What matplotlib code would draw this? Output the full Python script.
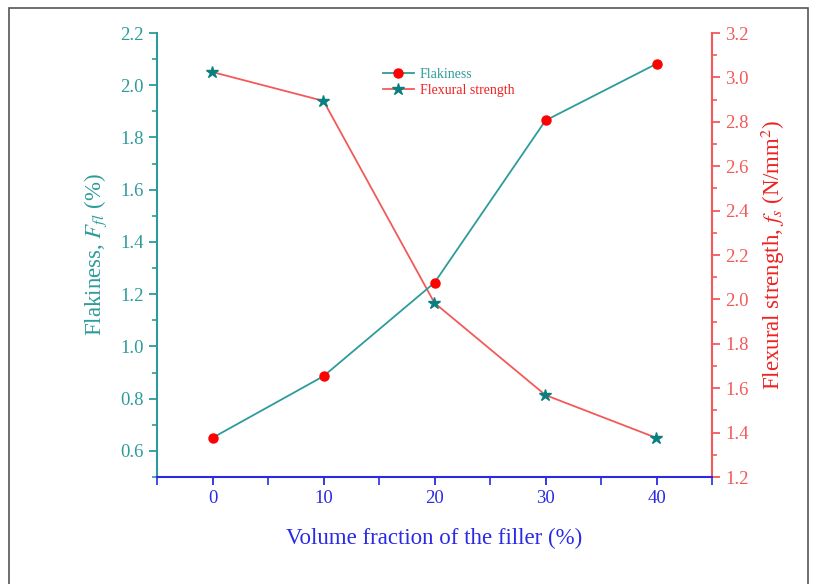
import matplotlib.pyplot as plt
from matplotlib.patches import Rectangle
from matplotlib.ticker import MultipleLocator

plt.rcParams['font.family'] = 'Liberation Serif'
plt.rcParams['mathtext.fontset'] = 'stix'

filler = [0, 10, 20, 30, 40]
flakiness = [0.65, 0.886, 1.244, 1.865, 2.082]
flexural = [3.024, 2.894, 1.984, 1.569, 1.376]

teal = '#2E9B9B'
teal_dark = '#0A7F7F'
red = '#F25A5A'
blue = '#2A2AE6'

fig = plt.figure(figsize=(8.17, 5.84), dpi=100)
ax = fig.add_axes([157/817, 1-477/584, (712-157)/817, (477-33)/584])
ax2 = ax.twinx()

# frame round the whole picture
fig.patches.append(Rectangle((9/817, -0.01), (808-9)/817, 1-8/584+0.01,
                             transform=fig.transFigure, fill=False,
                             edgecolor='#555555', linewidth=1.2))

l1, = ax.plot(filler, flakiness, color=teal, linewidth=1.3, marker='o',
              markersize=6.5, markerfacecolor='red', markeredgecolor='red',
              label='Flakiness', zorder=3)
l2, = ax2.plot(filler, flexural, color=red, linewidth=1.3, marker='*',
               markersize=9, markerfacecolor=teal_dark, markeredgecolor=teal_dark,
               label='Flexural strength', zorder=3)

ax.set_xlim(-5, 45)
ax.set_ylim(0.5, 2.2)
ax2.set_ylim(1.2, 3.2)
ax.set_xticks(filler)
ax.xaxis.set_minor_locator(MultipleLocator(5))
ax.yaxis.set_minor_locator(MultipleLocator(0.1))
ax2.yaxis.set_major_locator(MultipleLocator(0.2))
ax2.yaxis.set_minor_locator(MultipleLocator(0.1))
ax.set_yticks([0.6, 0.8, 1.0, 1.2, 1.4, 1.6, 1.8, 2.0, 2.2])
ax.set_yticklabels(['0.6', '0.8', '1.0', '1.2', '1.4', '1.6', '1.8', '2.0', '2.2'])

for a in (ax, ax2):
    a.spines['top'].set_visible(False)
ax.spines['left'].set_color(teal)
ax.spines['bottom'].set_color(blue)
ax.spines['right'].set_visible(False)
ax2.spines['left'].set_visible(False)
ax2.spines['bottom'].set_visible(False)
ax2.spines['right'].set_color(red)
for s in ('left', 'bottom'):
    ax.spines[s].set_linewidth(1.5)
ax2.spines['right'].set_linewidth(1.5)

ax.tick_params(axis='y', which='major', colors=teal, labelsize=13.5, length=6, width=1.3)
ax.tick_params(axis='y', which='minor', colors=teal, length=3.5, width=1.2)
ax.tick_params(axis='x', which='major', colors=blue, labelsize=13.5, length=6, width=1.3)
ax.tick_params(axis='x', which='minor', colors=blue, length=6, width=1.2)
ax2.tick_params(axis='y', which='major', colors=red, labelsize=13.5, length=6, width=1.3)
ax2.tick_params(axis='y', which='minor', colors=red, length=3.5, width=1.2)

ax.set_xlabel('Volume fraction of the filler (%)', color=blue, fontsize=16.5, labelpad=15)
ax.set_ylabel('Flakiness, $F_{fl}$ (%)', color=teal, fontsize=16.5, labelpad=8)
ax2.set_ylabel('Flexural strength, $f_s$ (N/mm$^2$)', color='#EE2222', fontsize=16.5, labelpad=7)

leg = ax.legend([l1, l2], ['Flakiness', 'Flexural strength'], loc='upper left',
                bbox_to_anchor=(370/817, 1-55/584), bbox_transform=fig.transFigure,
                frameon=False, fontsize=10, handlelength=2.3, labelspacing=0.25,
                handletextpad=0.4)
leg.get_texts()[0].set_color(teal)
leg.get_texts()[1].set_color('#EE2222')
ax.set_zorder(ax2.get_zorder() + 1)
ax.patch.set_visible(False)

plt.savefig('out.png', dpi=100)
